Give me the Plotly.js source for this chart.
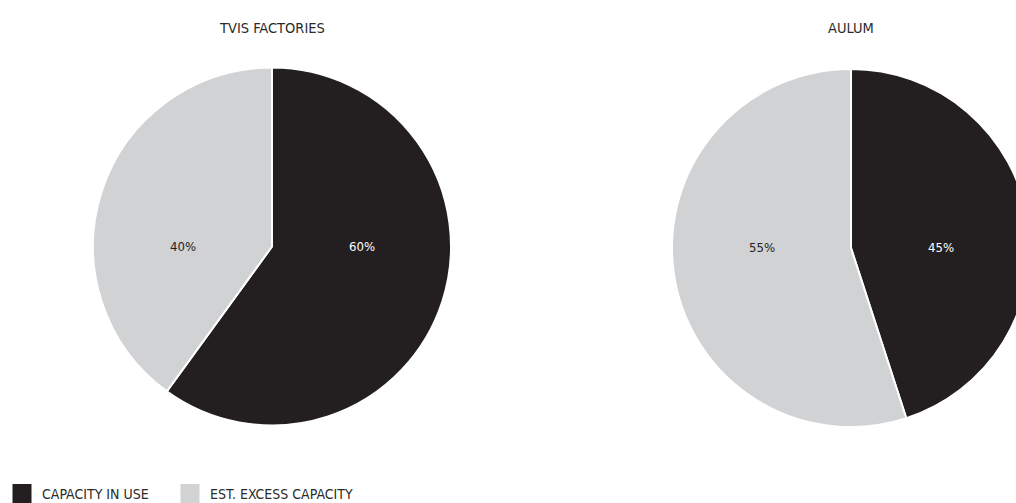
<!DOCTYPE html>
<html>
<head>
<meta charset="utf-8">
<script src="https://cdn.plot.ly/plotly-3.0.1.min.js"></script>
<style>
html,body{margin:0;padding:0;overflow:hidden;background:#fff;}
#chart{width:1100px;height:503px;}
</style>
</head>
<body>
<div id="chart"></div>
<script>
// ---- data ----
const chartTitles = ['TVIS FACTORIES', 'AULUM'];
const categories = ['CAPACITY IN USE', 'EST. EXCESS CAPACITY'];
const tvisValues = [60, 40];
const aulumValues = [45, 55];

// ---- styling ----
const W = 1100, H = 503;
const FONT = '"DejaVu Sans Condensed", "Liberation Sans Narrow", sans-serif';
const colors = ['#231f20', '#d1d2d4'];
const textColors = ['#ffffff', '#231f20'];

const pies = [
  {values: tvisValues, cx: 272, cy: 246.5},
  {values: aulumValues, cx: 851, cy: 248}
];
const R = 179;

const traces = pies.map(p => ({
  type: 'pie',
  labels: categories,
  values: p.values,
  sort: false,
  direction: 'clockwise',
  rotation: 0,
  textinfo: 'none',
  hoverinfo: 'label+percent',
  showlegend: false,
  marker: {colors: colors, line: {color: '#ffffff', width: 2}},
  domain: {
    x: [(p.cx - R) / W, (p.cx + R) / W],
    y: [(H - p.cy - R) / H, (H - p.cy + R) / H]
  }
}));

// legend entries via invisible scatter traces, one legend each
const legendKeys = ['legend', 'legend2'];
const legendX = [2, 170];
categories.forEach((c, i) => {
  traces.push({
    type: 'scatter', mode: 'markers', x: [null], y: [null], name: c,
    legend: legendKeys[i],
    marker: {symbol: 'square', size: 16, color: colors[i], line: {color: colors[i], width: 3}},
    showlegend: true, hoverinfo: 'skip'
  });
});

const annotations = [];
pies.forEach((p, k) => {
  annotations.push({
    text: chartTitles[k], xref: 'paper', yref: 'paper',
    x: p.cx / W, y: (H - 28) / H, xanchor: 'center', yanchor: 'middle',
    showarrow: false, font: {family: FONT, size: 14.5, color: '#2b2b2b'}
  });
  const total = p.values.reduce((a, b) => a + b, 0);
  p.values.forEach((v, i) => {
    const side = i === 0 ? 1 : -1; // first slice on right, second on left
    annotations.push({
      text: Math.round(v / total * 100) + '%', xref: 'paper', yref: 'paper',
      x: (p.cx + side * R * 0.5) / W, y: (H - p.cy) / H,
      xanchor: 'center', yanchor: 'middle', showarrow: false,
      font: {family: FONT, size: 13, color: textColors[i]}
    });
  });
});

const layout = {
  width: W, height: H,
  margin: {l: 0, r: 0, t: 0, b: 0, autoexpand: false},
  paper_bgcolor: '#ffffff', plot_bgcolor: '#ffffff',
  font: {family: FONT, color: '#2b2b2b'},
  xaxis: {visible: false}, yaxis: {visible: false},
  showlegend: true,
  annotations: annotations
};
legendKeys.forEach((key, i) => {
  layout[key] = {
    orientation: 'h', xref: 'container', yref: 'container',
    x: legendX[i] / W, xanchor: 'left', y: 9 / H, yanchor: 'middle',
    font: {family: FONT, size: 14, color: '#2b2b2b'},
    bgcolor: 'rgba(0,0,0,0)', itemclick: false, itemdoubleclick: false
  };
});

Plotly.newPlot('chart', traces, layout, {displayModeBar: false, staticPlot: true});
</script>
</body>
</html>
